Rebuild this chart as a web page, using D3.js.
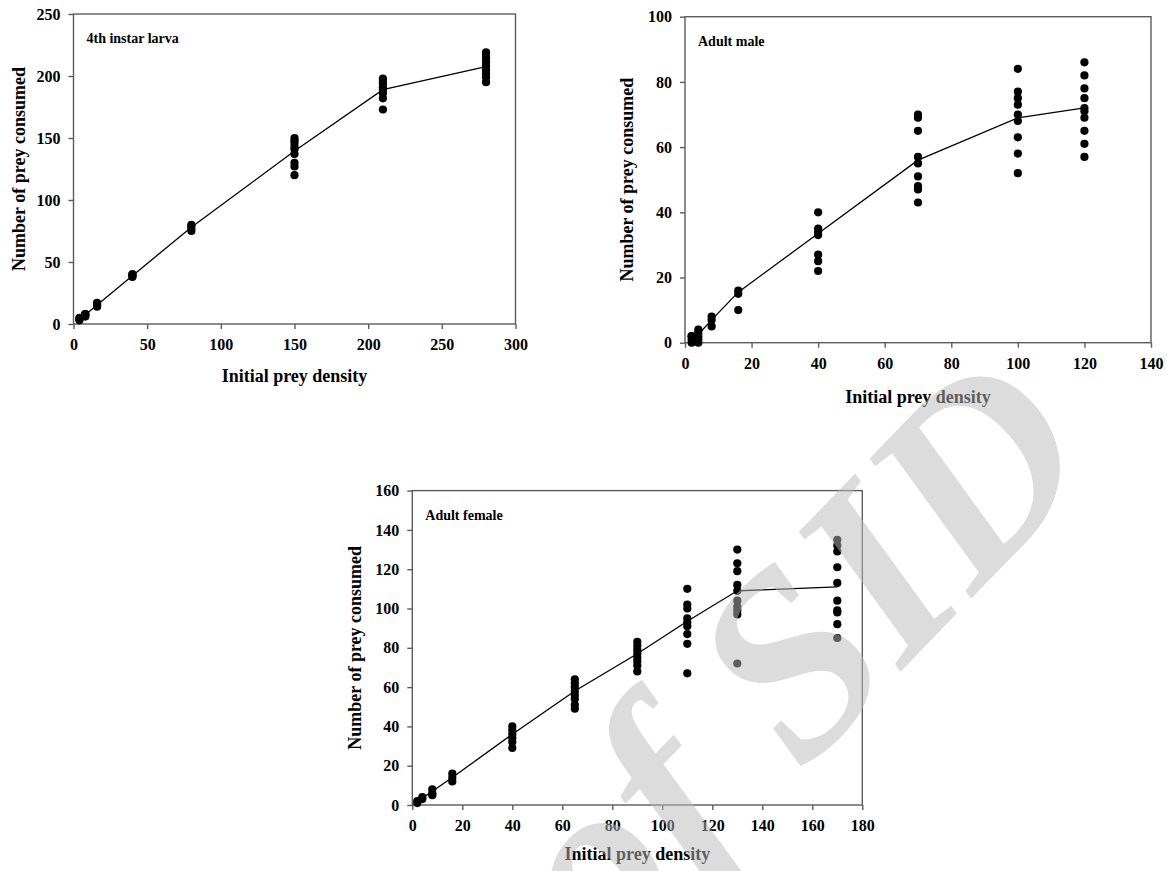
<!DOCTYPE html>
<html>
<head>
<meta charset="utf-8">
<script src="https://cdn.jsdelivr.net/npm/d3@7"></script>
<style>
  body { margin: 0; background: #fff; }
  svg { display: block; }
  text { font-family: "Liberation Serif", "Times New Roman", serif; font-weight: bold; }
</style>
</head>
<body>
<script>
var width = 1167,
  height = 871;

// 4th instar larva
var larvaDensity = [4, 8, 16, 40, 80, 150, 210, 280];
var larvaMean = [3.7, 7.5, 15.3, 39, 78, 139.5, 189, 207.5];
var larvaObs = [
  [3, 4, 5], [6, 7, 8, 8], [14, 15, 16, 17], [38, 39, 40, 40], [75, 77, 79, 80],
  [150, 148, 146, 143, 141, 137, 130, 127, 120],
  [198, 196, 194, 191, 189, 186, 182, 173],
  [219, 217, 214, 211, 208, 205, 202, 199, 195]
];

// adult male
var maleDensity = [2, 4, 8, 16, 40, 70, 100, 120];
var maleMean = [1, 2.5, 7, 15.5, 33.5, 56, 69, 72];
var maleObs = [
  [0, 1, 2, 2], [0, 1, 2, 3, 4], [5, 7, 8], [10, 15, 16],
  [22, 25, 27, 33, 34, 35, 40],
  [43, 47, 48, 51, 55, 57, 65, 69, 70],
  [52, 58, 63, 68, 70, 73, 75, 77, 84],
  [57, 61, 65, 69, 71, 72, 75, 78, 82, 86]
];

// adult female
var femaleDensity = [2, 4, 8, 16, 40, 65, 90, 110, 130, 170];
var femaleMean = [1.5, 3.5, 7, 14, 36, 58, 77, 93.5, 109, 111];
var femaleObs = [
  [1, 2], [3, 4], [5, 6, 8], [12, 14, 16],
  [29, 32, 34, 36, 38, 40],
  [49, 51, 54, 56, 58, 60, 62, 64],
  [68, 71, 73, 75, 77, 79, 81, 83],
  [67, 82, 87, 91, 93, 95, 100, 102, 110],
  [72, 97, 99, 101, 104, 109, 112, 119, 123, 130],
  [85, 92, 98, 99, 104, 113, 121, 129, 132, 135]
];

var xTitle = "Initial prey density";
var yTitle = "Number of prey consumed";

var svg = d3.select("body").append("svg")
  .attr("width", width)
  .attr("height", height);

// layout of the three panels
var panels = [
  { label: "4th instar larva", density: larvaDensity, mean: larvaMean, obs: larvaObs,
    left: 73.5, right: 515.5, top: 14, bottom: 324, xMax: 300, xStep: 50, yMax: 250, yStep: 50,
    xTitleY: 382, yTitleX: 25 },
  { label: "Adult male", density: maleDensity, mean: maleMean, obs: maleObs,
    left: 685, right: 1151, top: 16.7, bottom: 342.7, xMax: 140, xStep: 20, yMax: 100, yStep: 20,
    xTitleY: 403, yTitleX: 633 },
  { label: "Adult female", density: femaleDensity, mean: femaleMean, obs: femaleObs,
    left: 412.3, right: 862.3, top: 490.6, bottom: 805, xMax: 180, xStep: 20, yMax: 160, yStep: 20,
    xTitleY: 860, yTitleX: 361 }
];

panels.forEach(drawPanel);

function drawPanel(p) {
  var x = d3.scaleLinear().domain([0, p.xMax]).range([p.left, p.right]);
  var y = d3.scaleLinear().domain([0, p.yMax]).range([p.bottom, p.top]);

  var g = svg.append("g");

  // frame
  g.append("rect")
    .attr("x", p.left)
    .attr("y", p.top)
    .attr("width", p.right - p.left)
    .attr("height", p.bottom - p.top)
    .attr("fill", "none")
    .attr("stroke", "#5c5c5c")
    .attr("stroke-width", 1.4);

  var xAxis = g.append("g")
    .attr("transform", "translate(0," + p.bottom + ")")
    .call(d3.axisBottom(x)
      .tickValues(d3.range(0, p.xMax + 1, p.xStep))
      .tickSize(5).tickPadding(10)
      .tickFormat(d3.format("d")));

  var yAxis = g.append("g")
    .attr("transform", "translate(" + p.left + ",0)")
    .call(d3.axisLeft(y)
      .tickValues(d3.range(0, p.yMax + 1, p.yStep))
      .tickSize(5).tickPadding(8)
      .tickFormat(d3.format("d")));

  [xAxis, yAxis].forEach(function (a) {
    a.select(".domain").remove();
    a.selectAll("line").attr("stroke", "#5c5c5c").attr("stroke-width", 1.4);
    a.selectAll("text")
      .attr("fill", "#000")
      .style("font-size", "16px")
      .style("font-family", "'Liberation Serif', serif")
      .style("font-weight", "bold");
  });

  // mean line
  var line = d3.line()
    .x(function (d, i) { return x(p.density[i]); })
    .y(function (d) { return y(d); });

  g.append("path")
    .datum(p.mean)
    .attr("d", line)
    .attr("fill", "none")
    .attr("stroke", "#000")
    .attr("stroke-width", 1.3);

  // observations
  var pts = [];
  p.obs.forEach(function (vals, i) {
    vals.forEach(function (v) { pts.push({ x: p.density[i], y: v }); });
  });

  g.selectAll("circle")
    .data(pts)
    .enter()
    .append("circle")
    .attr("cx", function (d) { return x(d.x); })
    .attr("cy", function (d) { return y(d.y); })
    .attr("r", 4.1)
    .attr("fill", "#000");

  // panel label
  g.append("text")
    .attr("x", p.left + 13)
    .attr("y", p.top + 29)
    .style("font-size", "14px")
    .text(p.label);

  // axis titles
  g.append("text")
    .attr("x", (p.left + p.right) / 2)
    .attr("y", p.xTitleY)
    .attr("text-anchor", "middle")
    .style("font-size", "18px")
    .text(xTitle);

  g.append("text")
    .attr("transform", "translate(" + p.yTitleX + "," + (p.top + p.bottom) / 2 + ") rotate(-90)")
    .attr("text-anchor", "middle")
    .style("font-size", "18px")
    .text(yTitle);
}

// watermark on top
svg.append("text")
  .attr("transform", "translate(1103,462) rotate(-46)")
  .attr("text-anchor", "end")
  .style("font-size", "260px")
  .style("font-style", "italic")
  .attr("fill", "rgba(185,185,185,0.5)")
  .text("Archive of SID");
</script>
</body>
</html>
